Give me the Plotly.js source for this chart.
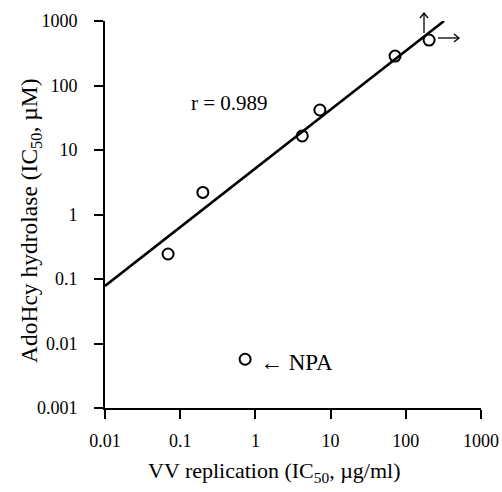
<!DOCTYPE html>
<html>
<head>
<meta charset="utf-8">
<script src="https://cdn.plot.ly/plotly-3.0.1.min.js"></script>
<style>html,body{margin:0;padding:0;background:#fff;}#chart{width:502px;height:492px;}</style>
</head>
<body>
<div id="chart"></div>
<script>
// Compounds: VV replication IC50 (µg/ml) vs AdoHcy hydrolase IC50 (µM)
const vvIC50 = [0.069, 0.2, 4.2, 7.2, 72, 204];
const hydrolaseIC50 = [0.244, 2.2, 16.5, 41.7, 286, 507];
const npaX = [0.73];
const npaY = [0.0057];
// regression line endpoints
const fitX = [0.01, 322];
const fitY = [0.078, 1000];
const tickVals = [0.001, 0.01, 0.1, 1, 10, 100, 1000];
const tickText = ["0.001", "0.01", "0.1", "1", "10", "100", "1000"];
const rLabel = "r = 0.989";
const npaLabel = "\u2190 NPA";
const xTitle = 'VV replication (IC<sub>50</sub>, \u00b5g/ml)';
const yTitle = 'AdoHcy hydrolase (IC<sub>50</sub>, \u00b5M)';

const FONT = "'Liberation Serif', 'Times New Roman', serif";
const L = 105, T = 21, W = 376, H = 387;
const px = v => (v - L) / W;
const py = v => 1 - (v - T) / H;

const traces = [
  {x: fitX, y: fitY, mode: 'lines', line: {color: '#000', width: 2.6}, hoverinfo: 'skip', cliponaxis: false},
  {x: vvIC50, y: hydrolaseIC50, mode: 'markers', cliponaxis: false,
   marker: {symbol: 'circle-open', size: 11, color: '#000', line: {width: 2, color: '#000'}}},
  {x: npaX, y: npaY, mode: 'markers', cliponaxis: false,
   marker: {symbol: 'circle-open', size: 11, color: '#000', line: {width: 2, color: '#000'}}}
];

const axisCommon = {
  type: 'log', showgrid: false, zeroline: false, showline: true,
  linecolor: '#000', linewidth: 2, ticks: 'outside', ticklen: 9, tickwidth: 2, tickcolor: '#000',
  tickfont: {family: FONT, size: 18, color: '#000'}, tickmode: 'array', fixedrange: true
};

const thin = {color: '#000', width: 1.3};
const layout = {
  width: 502, height: 492,
  margin: {l: L, r: 502 - L - W, t: T, b: 492 - T - H},
  paper_bgcolor: '#fff', plot_bgcolor: '#fff',
  showlegend: false,
  font: {family: FONT, color: '#000'},
  xaxis: Object.assign({}, axisCommon, {
    range: [-2, 3], tickvals: tickVals.slice(1), ticktext: tickText.slice(1), ticklabelstandoff: 6
  }),
  yaxis: Object.assign({}, axisCommon, {
    range: [-3, 3], tickvals: tickVals, ticktext: tickText, ticklabelstandoff: 13
  }),
  annotations: [
    {xref: 'paper', yref: 'paper', x: px(229), y: py(103), text: rLabel, showarrow: false,
     font: {family: FONT, size: 21, color: '#000'}, xanchor: 'center', yanchor: 'middle'},
    {xref: 'paper', yref: 'paper', x: px(258), y: py(362), text: npaLabel, showarrow: false,
     font: {family: FONT, size: 23, color: '#000'}, xanchor: 'left', yanchor: 'middle'},
    {xref: 'paper', yref: 'paper', x: px(274), y: py(472), text: xTitle, showarrow: false,
     font: {family: FONT, size: 22, color: '#000'}, xanchor: 'center', yanchor: 'middle'},
    {xref: 'paper', yref: 'paper', x: px(31), y: py(221), text: yTitle, showarrow: false, textangle: -90,
     font: {family: FONT, size: 23.5, color: '#000'}, xanchor: 'center', yanchor: 'middle'}
  ],
  shapes: [
    {type: 'line', xref: 'paper', yref: 'paper', x0: px(424), y0: py(33), x1: px(424), y1: py(13), line: thin},
    {type: 'path', xref: 'paper', yref: 'paper', line: thin,
     path: `M ${px(420)},${py(18)} L ${px(424)},${py(13)} L ${px(428)},${py(18)}`},
    {type: 'line', xref: 'paper', yref: 'paper', x0: px(438), y0: py(38), x1: px(459), y1: py(38), line: thin},
    {type: 'path', xref: 'paper', yref: 'paper', line: thin,
     path: `M ${px(454)},${py(34)} L ${px(459)},${py(38)} L ${px(454)},${py(42)}`}
  ]
};

Plotly.newPlot('chart', traces, layout, {staticPlot: true, displayModeBar: false});
</script>
</body>
</html>
